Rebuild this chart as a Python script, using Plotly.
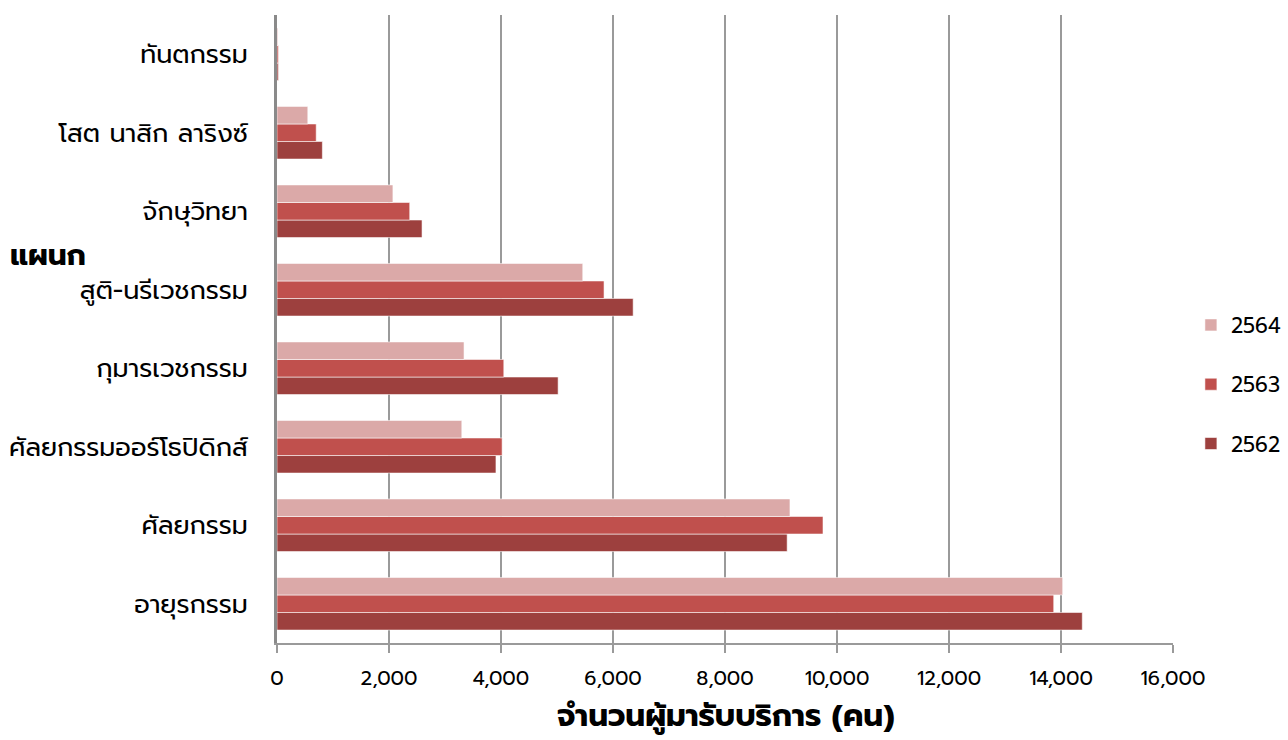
import plotly.graph_objects as go

# Departments, top to bottom as listed in the chart
departments = [
    "ทันตกรรม",
    "โสต นาสิก ลาริงซ์",
    "จักษุวิทยา",
    "สูติ-นรีเวชกรรม",
    "กุมารเวชกรรม",
    "ศัลยกรรมออร์โธปิดิกส์",
    "ศัลยกรรม",
    "อายุรกรรม",
]

# Patients served per department, by fiscal year
visits_2562 = [25, 810, 2590, 6360, 5020, 3910, 9110, 14380]
visits_2563 = [25, 700, 2370, 5840, 4050, 4020, 9750, 13870]
visits_2564 = [15, 550, 2070, 5460, 3340, 3300, 9160, 14030]

x_ticks = [0, 2000, 4000, 6000, 8000, 10000, 12000, 14000, 16000]

FONT = "Prompt, Kanit, Noto Sans Thai, sans-serif"

# (name, values, colour, legend rank)
series = [
    ("2562", visits_2562, "#9D403E", 3),
    ("2563", visits_2563, "#C0504D", 2),
    ("2564", visits_2564, "#DBA9A8", 1),
]

fig = go.Figure()
for name, vals, color, rank in series:
    fig.add_trace(go.Bar(
        y=departments,
        x=vals,
        name=name,
        orientation="h",
        legendgroup=name,
        legendrank=rank,
        marker=dict(color=color, line=dict(color="rgba(255,255,255,0.55)", width=1)),
    ))

fig.update_layout(
    width=1288,
    height=740,
    margin=dict(l=277, r=115, t=15, b=97, autoexpand=False),
    paper_bgcolor="white",
    plot_bgcolor="white",
    barmode="group",
    bargap=0.33,
    bargroupgap=0,
    font=dict(family=FONT, color="black"),
    showlegend=True,
    legend=dict(
        x=1.020, xanchor="left",
        y=0.412, yanchor="middle",
        traceorder="grouped",
        tracegroupgap=29,
        font=dict(size=21, family=FONT, color="black"),
        itemwidth=30,
        bgcolor="rgba(0,0,0,0)",
    ),
    xaxis=dict(
        range=[0, 16000],
        tickvals=x_ticks,
        tickformat=",d",
        showgrid=True,
        gridcolor="#9a9a9a",
        gridwidth=2,
        showline=True,
        linecolor="#9a9a9a",
        linewidth=2,
        ticks="outside",
        ticklen=8,
        tickwidth=2,
        tickcolor="#9a9a9a",
        tickfont=dict(size=20, family=FONT, color="black"),
        ticklabelstandoff=8,
        zeroline=False,
    ),
    yaxis=dict(
        categoryorder="array",
        categoryarray=departments[::-1],
        showgrid=False,
        showline=True,
        linecolor="#8a8a8a",
        linewidth=3,
        ticks="",
        tickfont=dict(size=25.5, family=FONT, color="black"),
        ticklabelstandoff=21,
        zeroline=False,
    ),
    annotations=[
        dict(
            text="<b>แผนก</b>",
            xref="paper", yref="paper",
            x=-0.3002, y=0.618,
            xanchor="left", yanchor="middle",
            showarrow=False,
            font=dict(size=29.5, family=FONT, color="black"),
        ),
        dict(
            text="<b>จำนวนผู้มารับบริการ (คน)</b>",
            xref="paper", yref="paper",
            x=0.5, y=-0.116,
            xanchor="center", yanchor="middle",
            showarrow=False,
            font=dict(size=31, family=FONT, color="black"),
        ),
    ],
)

fig.write_html("out.html")
